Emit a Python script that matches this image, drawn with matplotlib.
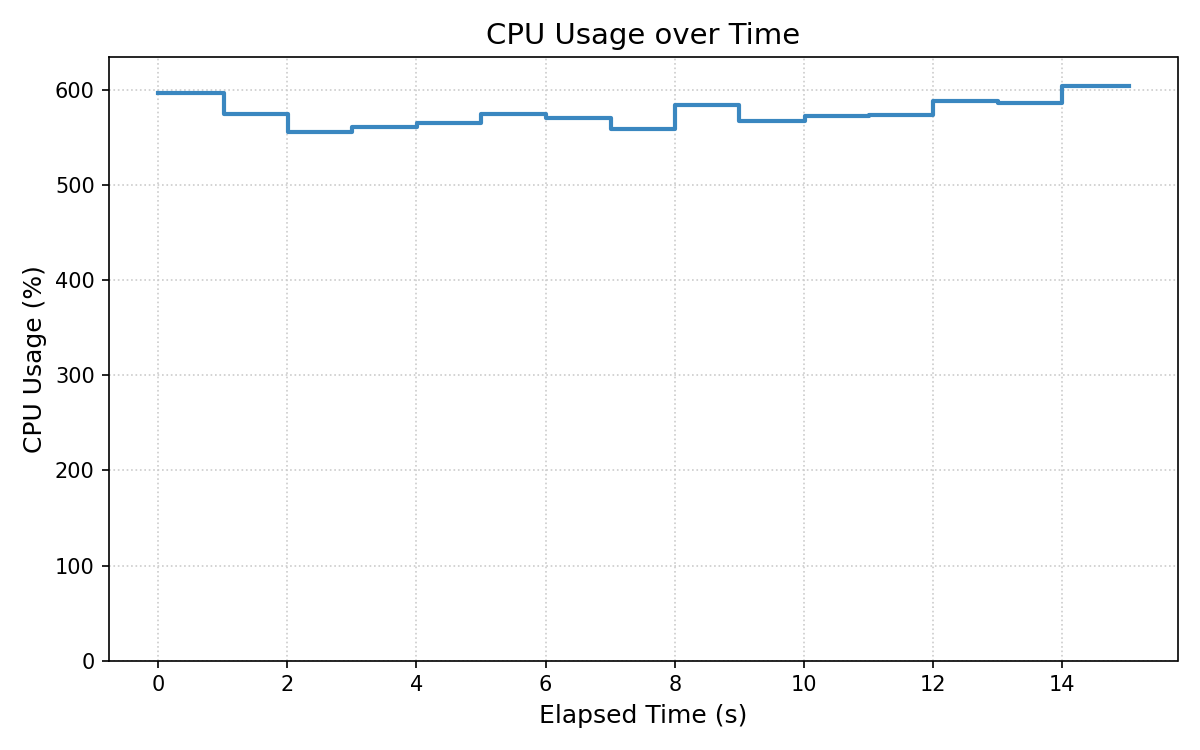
import numpy as np
import matplotlib.pyplot as plt

# Muestras de uso de CPU
elapsed = [0, 1.02, 2.01, 3.01, 4.01, 5.0, 6.01, 7.01, 8.0, 9.0,
           10.01, 11.0, 12.0, 13.01, 14.0, 15.03]
cpu = [597, 575, 556, 561, 566, 575, 571, 559, 584.5, 568,
       573, 574, 588.5, 587, 604.5, 604.5]

fig, ax = plt.subplots(figsize=(8, 5), dpi=150)

ax.step(elapsed, cpu, where='post', color='#3a87c0', linewidth=2)
ax.set_ylim(0, 635)
ax.set_title('CPU Usage over Time', fontsize=14)
ax.set_xlabel('Elapsed Time (s)', fontsize=12)
ax.set_ylabel('CPU Usage (%)', fontsize=12)
ax.grid(True, linestyle=':', color='#cccccc', linewidth=0.8)

plt.tight_layout()
plt.savefig('out.png')
